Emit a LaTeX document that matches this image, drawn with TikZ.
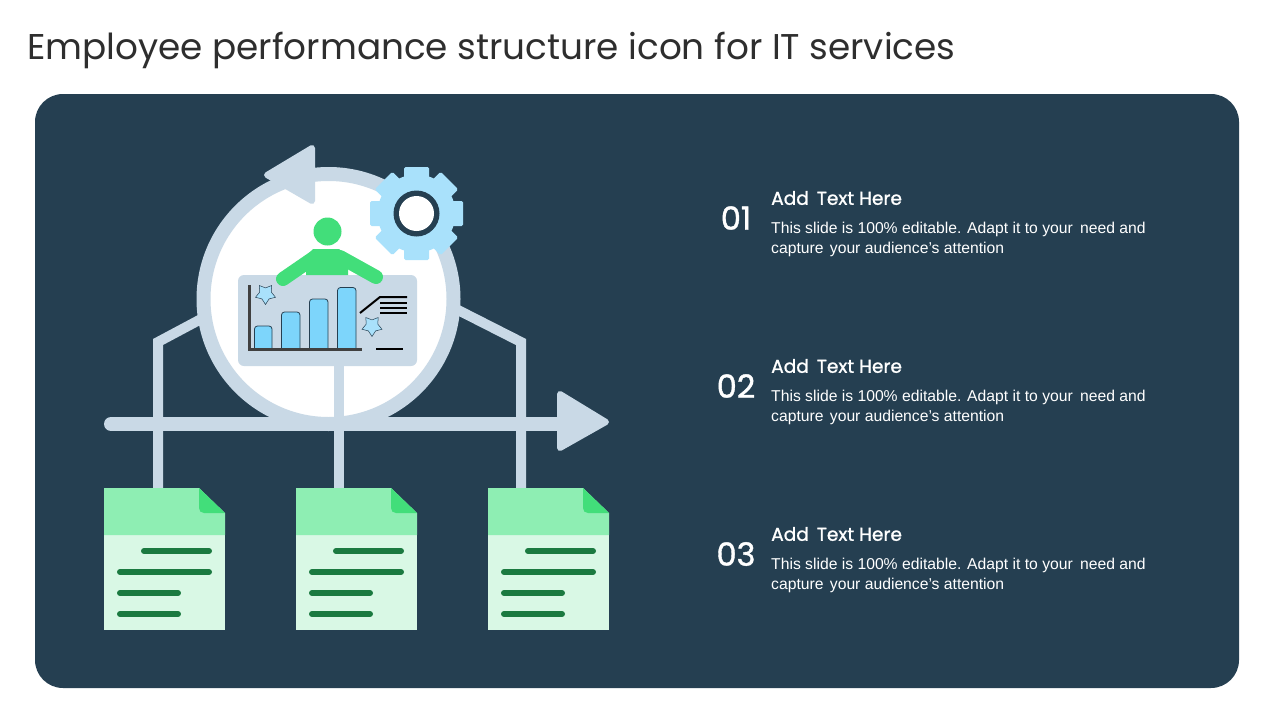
\documentclass[tikz,border=0pt]{standalone}
\usepackage{fontspec}
\setmainfont{Liberation Sans}
\newfontfamily\titlefont{Poppins}
\newfontfamily\headfont[FakeBold=1.2]{Poppins}
\usetikzlibrary{calc}
\definecolor{panel}{HTML}{253F51}
\definecolor{pale}{HTML}{C9D9E6}
\definecolor{gearblue}{HTML}{A9E1FB}
\definecolor{barblue}{HTML}{7DD5FB}
\definecolor{green1}{HTML}{42DE7A}
\definecolor{green2}{HTML}{8EEEB3}
\definecolor{green3}{HTML}{D9F8E5}
\definecolor{green4}{HTML}{1B7A40}
\tikzset{
  link/.style={draw=pale,line width=10pt,miter limit=10},
  barbox/.style={fill=barblue,draw=panel,line width=.8pt,rounded corners=3pt},
  starshape/.style={fill=gearblue,draw=panel,line width=.5pt,line join=miter},
  docline/.style={draw=green4,line width=6pt,line cap=round},
  blackline/.style={draw=black,line width=2pt},
  numtext/.style={text=white,anchor=center,inner sep=0pt,font=\headfont\fontsize{32}{32}\selectfont},
  headtext/.style={text=white,anchor=west,inner sep=0pt,font=\headfont\fontsize{18.6}{19}\selectfont},
  bodytext/.style={text=white,anchor=west,inner sep=0pt,font=\fontsize{15.7}{16}\selectfont}
}
\newcommand{\docicon}[1]{%
  \begin{scope}[xshift=#1pt]
    \fill[green3] (104,535) rectangle (225,630);
    \fill[green2] (104,488) -- (199,488) -- (225,513) -- (225,535) -- (104,535) -- cycle;
    \fill[green1] (199,488) -- (225,513) -- (204,513) .. controls (201,513) and (199,511) .. (199,508) -- cycle;
    \draw[docline] (144,551) -- (209,551);
    \draw[docline] (120,572) -- (209,572);
    \draw[docline] (120,593) -- (178,593);
    \draw[docline] (120,614) -- (178,614);
  \end{scope}}
\newcommand{\staricon}[3]{%
  \draw[starshape] ($(#1,#2)+(90:#3)$)
    \foreach \a in {0,72,144,216,288}{ -- ($(#1,#2)+(\a+126:#3*0.58)$) -- ($(#1,#2)+(\a+162:#3)$)} -- cycle;}
\newcommand{\textrow}[2]{%
  \node[numtext] (num#1) at (736,{218+#2}) {#1};
  \node[headtext] (head#1) at (771,{198+#2}) {Add\hspace{3pt} Text Here};
  \node[bodytext] (bodya#1) at (771,{229+#2}) {This slide is 100\% editable. Adapt it to your\hspace{3pt} need and};
  \node[bodytext] (bodyb#1) at (771,{249+#2}) {capture\hspace{2pt} your audience’s attention};}
\begin{document}
\begin{tikzpicture}[x=1pt,y=-1pt]
\useasboundingbox (0,0) rectangle (1280,720);
\fill[white] (0,0) rectangle (1280,720);
\node[anchor=west,text=black!82,inner sep=0pt,font=\titlefont\fontsize{35.8}{36}\selectfont] (title) at (27,50.5) {Employee performance structure icon for IT services};
\fill[panel,rounded corners=28pt] (35,94) rectangle (1239,688);

% circle
\coordinate (cc) at (328.5,299);
\fill[white] (cc) circle[radius=125];
\draw[pale,line width=14pt] (cc) circle[radius=125];

% branches
\coordinate (la) at (158,488); \coordinate (lb) at (158,342); \coordinate (lc) at (203,318);
\coordinate (ra) at (521,488); \coordinate (rb) at (521,342); \coordinate (rc) at (456,309);
\coordinate (ma) at (339,488); \coordinate (mb) at (339,360);
\draw[link] (la) -- (lb) -- (lc);
\draw[link] (ra) -- (rb) -- (rc);
\draw[link] (ma) -- (mb);

% axis arrow
\coordinate (axa) at (111,424); \coordinate (axb) at (565,424);
\draw[pale,line width=14pt,line cap=round] (axa) -- (axb);
\fill[pale,draw=pale,line width=6pt,line join=round] (560,394) -- (606,422) -- (560,448) -- cycle;

% circular arrow head
\fill[pale,draw=pale,line width=6pt,line join=round] (312,148) -- (267,175) -- (312,201) -- cycle;

% gear
\begin{scope}[shift={(416.5,213.5)}]
  \fill[gearblue] (0,0) circle[radius=39];
  \foreach \a in {0,45,...,315}{
    \fill[gearblue,rotate=\a,rounded corners=1.5pt] (-12.5,-46.5) rectangle (12.5,-30);
  }
  \fill[panel] (0,0) circle[radius=23];
  \fill[white] (0,0) circle[radius=17.5];
\end{scope}

% board
\fill[pale,rounded corners=6pt] (238,275) rectangle (417,366);

% person
\fill[green1] (327.5,231.5) circle[radius=14];
\fill[green1] (306,275) -- (306,256) -- (313,249) -- (339,249) -- (348,256) -- (348,275) -- cycle;
\draw[green1,line width=14pt,line cap=round] (283,279) -- (315,257);
\draw[green1,line width=14pt,line cap=round] (340,257) -- (376,277);

% chart
\draw[barbox] (254.5,349) -- (254.5,326) -- (272,326) -- (272,349);
\draw[barbox] (281.5,349) -- (281.5,312) -- (300,312) -- (300,349);
\draw[barbox] (309.5,349) -- (309.5,299) -- (328,299) -- (328,349);
\draw[barbox] (337.5,349) -- (337.5,287.5) -- (356,287.5) -- (356,349);
\draw[draw=black!75,line width=2.8pt] (249.5,285) -- (249.5,349.5) -- (362,349.5);
\staricon{265.5}{294}{10.5}
\staricon{372}{326}{10.5}

\draw[blackline] (360,313) -- (380,297) -- (407,297);
\draw[blackline] (380,303) -- (407,303);
\draw[blackline] (380,308) -- (407,308);
\draw[blackline] (380,313) -- (407,313);
\draw[blackline] (376,349) -- (403,349);

\docicon{0}\docicon{192}\docicon{384}

\textrow{01}{0}
\textrow{02}{168}
\textrow{03}{336}
\end{tikzpicture}
\end{document}
